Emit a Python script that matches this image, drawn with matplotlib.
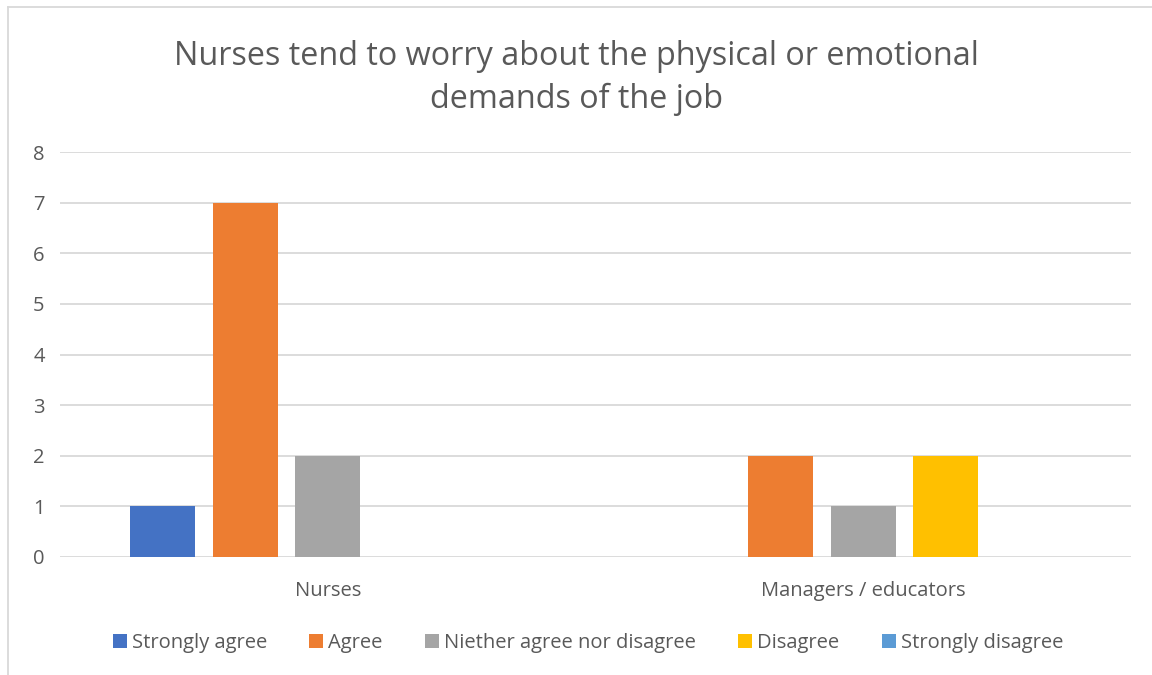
import numpy as np
import matplotlib.pyplot as plt
from matplotlib.lines import Line2D

groups = ['Nurses', 'Managers / educators']
responses = ['Strongly agree', 'Agree', 'Niether agree nor disagree', 'Disagree', 'Strongly disagree']
strongly_agree = [1, 0]
agree = [7, 2]
neither = [2, 1]
disagree = [0, 2]
strongly_disagree = [0, 0]
colors = ['#4472C4', '#ED7D31', '#A5A5A5', '#FFC000', '#5B9BD5']

plt.rcParams['font.family'] = ['Open Sans', 'DejaVu Sans']
text_col = '#595959'

fig = plt.figure(figsize=(11.52, 6.75), dpi=100)
ax = fig.add_axes([60 / 1152, 1 - 557 / 675, 1071 / 1152, 405 / 675])

x = np.arange(len(groups))
step = 0.154
width = 0.1214
series = [strongly_agree, agree, neither, disagree, strongly_disagree]
for i, (vals, name, c) in enumerate(zip(series, responses, colors)):
    ax.bar(x + (i - 2) * step, vals, width, color=c, label=name, zorder=3)

ax.set_xlim(-0.5, 1.5)
ax.set_ylim(0, 8)
ax.set_yticks(range(0, 9))
ax.set_xticks(x)
ax.set_xticklabels(groups)
ax.grid(axis='y', color='#D9D9D9', linewidth=1.3, zorder=0)
for s in ax.spines.values():
    s.set_visible(False)
ax.tick_params(axis='both', length=0, labelsize=14.5, labelcolor=text_col)
ax.tick_params(axis='y', pad=11)
ax.tick_params(axis='x', pad=17.5)

fig.text(0.5, 1 - 78 / 675, 'Nurses tend to worry about the physical or emotional\ndemands of the job',
         ha='center', va='center', fontsize=23.3, color=text_col, linespacing=1.4)

leg = ax.legend(loc='center', bbox_to_anchor=(588 / 1152, 1 - 643 / 675), bbox_transform=fig.transFigure,
                ncol=5, frameon=False, fontsize=14.5, handlelength=0.7, handleheight=0.7,
                handletextpad=0.25, columnspacing=2.1, labelcolor=text_col)

# chart frame, top and left edges
fig.add_artist(Line2D([8 / 1152, 8 / 1152], [0, 1 - 7 / 675], transform=fig.transFigure, color='#D9D9D9', linewidth=1.3))
fig.add_artist(Line2D([8 / 1152, 1], [1 - 7 / 675, 1 - 7 / 675], transform=fig.transFigure, color='#D9D9D9', linewidth=1.3))

fig.savefig('out.png', dpi=100)
